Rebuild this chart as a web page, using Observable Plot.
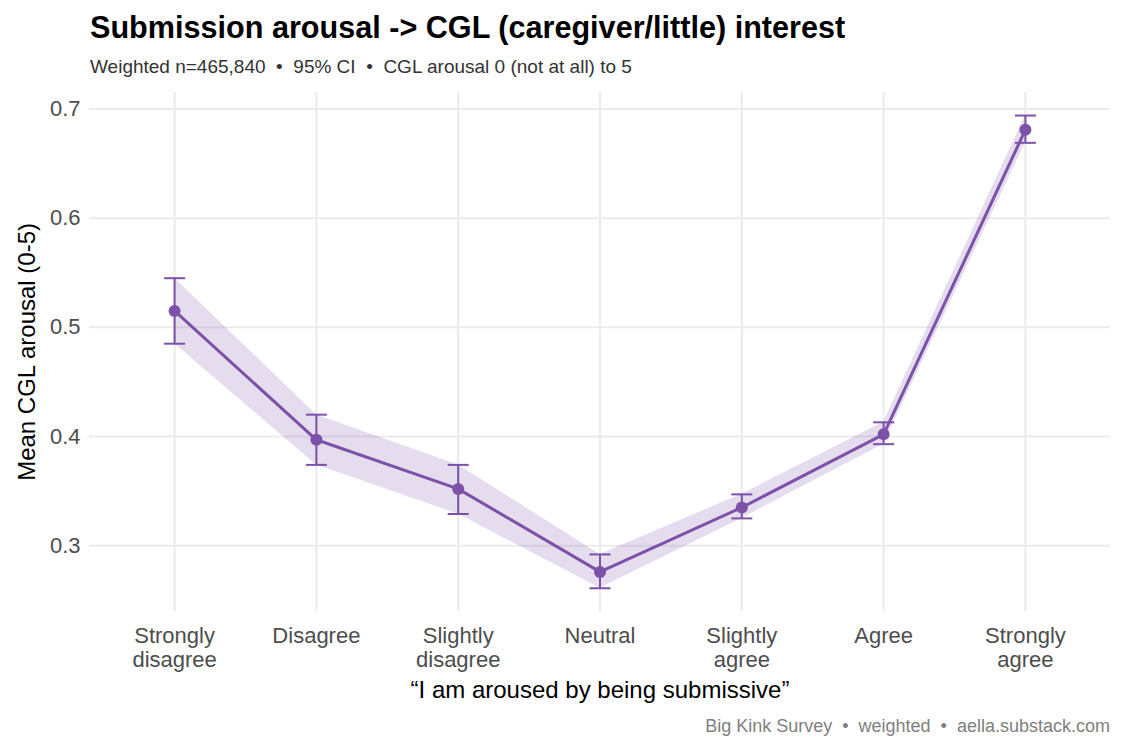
<!DOCTYPE html>
<html>
<head>
<meta charset="utf-8">
<script src="https://cdn.jsdelivr.net/npm/d3@7"></script>
<script src="https://cdn.jsdelivr.net/npm/@observablehq/plot@0.6"></script>
<style>
  html, body { margin: 0; padding: 0; background: #fff; width: 1125px; height: 750px; overflow: hidden; }
  body { position: relative; font-family: "Liberation Sans", Arial, sans-serif; }
  .title { position: absolute; left: 90px; top: 12.4px; font-size: 30.6px; line-height: 30.6px; font-weight: bold; color: #000; white-space: nowrap; }
  .subtitle { position: absolute; left: 90px; top: 57.2px; font-size: 19px; line-height: 19px; color: #333; white-space: pre; }
  .caption { position: absolute; right: 15px; top: 716.5px; font-size: 18px; line-height: 18px; color: #808080; white-space: pre; }
  #chart { position: absolute; left: 0; top: 84px; }
</style>
</head>
<body>
<div class="title">Submission arousal -&gt; CGL (caregiver/little) interest</div>
<div class="subtitle">Weighted n=465,840  •  95% CI  •  CGL arousal 0 (not at all) to 5</div>
<div id="chart"></div>
<div class="caption">Big Kink Survey  •  weighted  •  aella.substack.com</div>
<script>
const categories = ["Strongly disagree", "Disagree", "Slightly disagree", "Neutral", "Slightly agree", "Agree", "Strongly agree"];
const means = [0.515, 0.397, 0.352, 0.276, 0.335, 0.402, 0.681];
const ciLow = [0.485, 0.374, 0.329, 0.261, 0.325, 0.393, 0.669];
const ciHigh = [0.545, 0.420, 0.374, 0.292, 0.347, 0.413, 0.694];
const yTicks = [0.3, 0.4, 0.5, 0.6, 0.7];
const xTitle = "\u201CI am aroused by being submissive\u201D";
const yTitle = "Mean CGL arousal (0-5)";

const purple = "#7b52a8";
const data = categories.map((c, i) => ({cat: c, mean: means[i], lo: ciLow[i], hi: ciHigh[i]}));

const lo = d3.min(ciLow), hi = d3.max(ciHigh);
const pad = (hi - lo) * 0.05;

const capSymbol = {
  draw(context, size) {
    const w = Math.sqrt(size / Math.PI);
    context.moveTo(-w, 0);
    context.lineTo(w, 0);
  }
};

const plot = Plot.plot({
  width: 1125,
  height: 626,
  marginLeft: 89,
  marginRight: 15,
  marginTop: 7.4,
  marginBottom: 98.6,
  style: {fontFamily: "'Liberation Sans', Arial, sans-serif", background: "#fff", overflow: "visible"},
  x: {type: "point", domain: categories, padding: 0.6, round: false},
  y: {domain: [lo - pad, hi + pad]},
  marks: [
    Plot.gridY(yTicks, {stroke: "#ebebeb", strokeOpacity: 1, strokeWidth: 2}),
    Plot.gridX(categories, {stroke: "#ebebeb", strokeOpacity: 1, strokeWidth: 2}),
    Plot.axisY({ticks: yTicks, tickSize: 0, tickPadding: 9, tickFormat: d3.format(".1f"), fontSize: 22, fill: "#4d4d4d", label: null}),
    Plot.axisX({tickSize: 0, tickPadding: 14, fontSize: 22, fill: "#4d4d4d", lineHeight: 1.09, tickFormat: d => d.replace(" ", "\n"), label: null}),
    Plot.areaY(data, {x: "cat", y1: "lo", y2: "hi", fill: purple, fillOpacity: 0.2}),
    Plot.line(data, {x: "cat", y: "mean", stroke: purple, strokeWidth: 3}),
    Plot.ruleX(data, {x: "cat", y1: "lo", y2: "hi", stroke: purple, strokeWidth: 2}),
    Plot.dot(data, {x: "cat", y: "lo", symbol: capSymbol, r: 10.5, stroke: purple, strokeWidth: 2, fill: "none"}),
    Plot.dot(data, {x: "cat", y: "hi", symbol: capSymbol, r: 10.5, stroke: purple, strokeWidth: 2, fill: "none"}),
    Plot.dot(data, {x: "cat", y: "mean", r: 6, fill: purple, stroke: "none"}),
    Plot.text([xTitle], {frameAnchor: "bottom", lineAnchor: "bottom", textAnchor: "middle", dy: 86, fontSize: 24, fill: "#000"}),
    Plot.text([yTitle], {frameAnchor: "left", lineAnchor: "bottom", textAnchor: "middle", rotate: -90, dx: -55, fontSize: 24, fill: "#000"})
  ]
});
document.getElementById("chart").appendChild(plot);
</script>
</body>
</html>
